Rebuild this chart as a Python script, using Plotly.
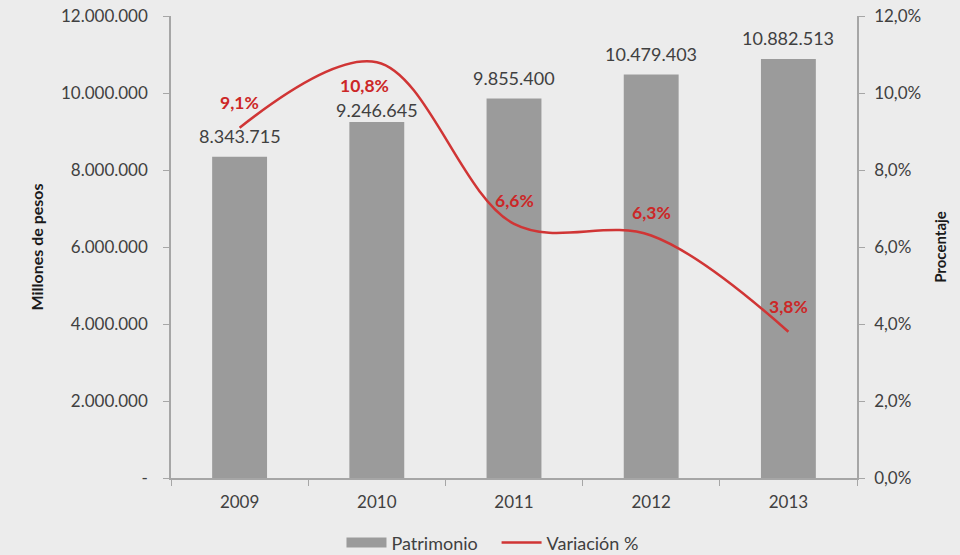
import plotly.graph_objects as go

years = ["2009", "2010", "2011", "2012", "2013"]
patrimonio = [8343715, 9246645, 9855400, 10479403, 10882513]
patrimonio_labels = ["8.343.715", "9.246.645", "9.855.400", "10.479.403", "10.882.513"]
variacion = [9.1, 10.8, 6.6, 6.3, 3.8]
variacion_labels = ["9,1%", "10,8%", "6,6%", "6,3%", "3,8%"]
left_ticks = [0, 2000000, 4000000, 6000000, 8000000, 10000000, 12000000]
left_ticktext = ["-", "2.000.000", "4.000.000", "6.000.000", "8.000.000", "10.000.000", "12.000.000"]
right_ticks = [0, 2, 4, 6, 8, 10, 12]
right_ticktext = ["0,0%", "2,0%", "4,0%", "6,0%", "8,0%", "10,0%", "12,0%"]

BG = "#ececec"
FONT = "Lato, Open Sans, sans-serif"
TXT = "#404040"
AX = "#a6a6a6"
BAR = "#9b9b9b"
RED = "#d03535"

fig = go.Figure()
fig.add_trace(go.Bar(
    x=years, y=patrimonio, name="Patrimonio", showlegend=False,
    marker=dict(color=BAR, line=dict(width=0)),
    width=0.4,
))
# legend proxy for bars (wide rectangle symbol)
fig.add_trace(go.Scatter(
    x=[None], y=[None], name="Patrimonio\u00a0\u00a0\u00a0", mode="lines",
    line=dict(color=BAR, width=12),
))
fig.add_trace(go.Scatter(
    x=years, y=variacion, name="Variación %", yaxis="y2",
    mode="lines",
    line=dict(color=RED, width=2.5, shape="spline", smoothing=1.0),
    cliponaxis=False,
))

annotations = []
bar_label_shift = [9, 0, 9, 9, 9]
for i, (v, lab, dy) in enumerate(zip(patrimonio, patrimonio_labels, bar_label_shift)):
    annotations.append(dict(
        x=i, y=v, xref="x", yref="y", text=lab, showarrow=False,
        yanchor="bottom", yshift=dy, borderpad=0,
        font=dict(size=18, color=TXT, family=FONT),
    ))
label_shift = [(0, 25), (-12, -23), (0, 23), (0, 23), (0, 25)]
for i, (v, lab, (dx, dy)) in enumerate(zip(variacion, variacion_labels, label_shift)):
    annotations.append(dict(
        x=i, y=v, xref="x", yref="y2", text="<b>" + lab + "</b>",
        showarrow=False, xshift=dx, yshift=dy, borderpad=0,
        font=dict(size=17.5, color="#cc2727", family=FONT),
    ))

fig.update_layout(
    width=960, height=555,
    paper_bgcolor=BG, plot_bgcolor=BG,
    margin=dict(l=171, r=103, t=16, b=77),
    font=dict(family=FONT, color=TXT, size=17),
    annotations=annotations,
    showlegend=True,
    legend=dict(orientation="h", x=0.513, xanchor="center", xref="container",
                y=0.022, yanchor="middle", yref="container",
                font=dict(size=18, color=TXT), bgcolor="rgba(0,0,0,0)",
                traceorder="normal", itemwidth=40, tracegroupgap=0),
    xaxis=dict(type="category", range=[-0.5, 4.5], showgrid=False, automargin=False,
               showline=True, linecolor=AX, linewidth=1.5,
               ticks="outside", tickson="boundaries", ticklen=6, tickcolor=AX,
               ticklabelstandoff=8,
               tickfont=dict(size=17, color=TXT), zeroline=False),
    yaxis=dict(range=[0, 12000000], tickvals=left_ticks, ticktext=left_ticktext,
               showgrid=False, zeroline=False, showline=True, linecolor=AX, linewidth=1.5,
               automargin=False,
               ticks="outside", ticklen=6, tickcolor=AX, ticklabelstandoff=12,
               tickfont=dict(size=17, color=TXT),
               title=dict(text="<b>Millones de pesos</b>", font=dict(size=16, color="#1a1a1a"), standoff=13)),
    yaxis2=dict(range=[0, 12], overlaying="y", side="right", tickvals=right_ticks,
                ticktext=right_ticktext, showgrid=False, zeroline=False,
                showline=True, linecolor=AX, linewidth=1.5, automargin=False,
                ticks="outside", ticklen=6, tickcolor=AX, ticklabelstandoff=6,
                tickfont=dict(size=17, color=TXT),
                title=dict(text="<b>Procentaje</b>", font=dict(size=15, color="#1a1a1a"), standoff=15)),
)

fig.write_html("out.html", config={"displayModeBar": False},
               post_script="document.body.style.margin='0';document.body.style.overflow='hidden';document.body.style.background='#ececec';")
